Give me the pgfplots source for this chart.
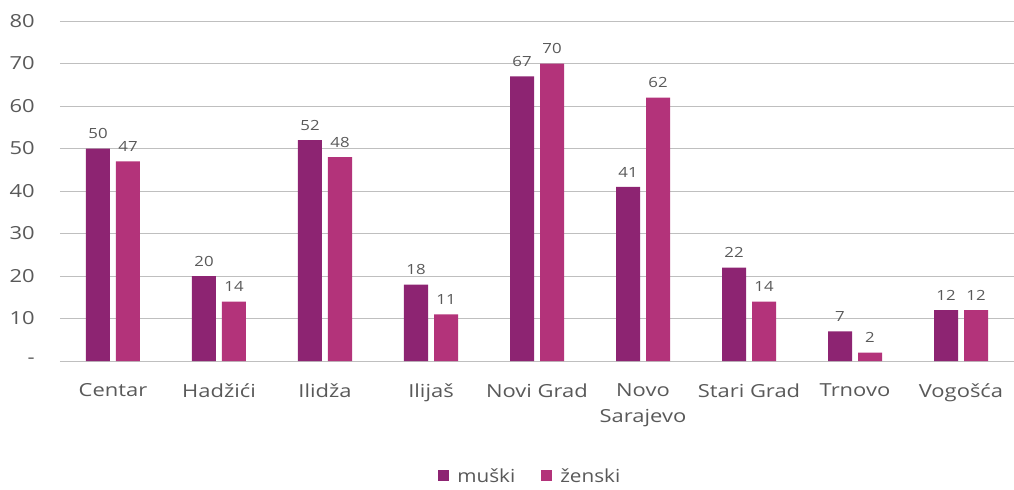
\documentclass[border=0pt]{standalone}
\usepackage{pgfplots}
\pgfplotsset{compat=1.18}
\usepackage{fontspec}
\setmainfont{Open Sans}
\definecolor{muski}{HTML}{8D2472}
\definecolor{zenski}{HTML}{B3337A}
\definecolor{txt}{HTML}{595959}
\definecolor{grid}{HTML}{D9D9D9}
\begin{document}
\begin{tikzpicture}
\useasboundingbox (-60bp,-129bp) rectangle (954bp,361bp);
\begin{axis}[
  at={(0,0)}, anchor=south west,
  scale only axis, width=954bp, height=340bp,
  ybar=6bp, bar width=24bp,
  xmin=-0.5, xmax=8.5, ymin=0, ymax=80,
  xtick=data,
  xticklabels={Centar,Hadžići,Ilidža,Ilijaš,Novi Grad,Novo\\Sarajevo,Stari Grad,Trnovo,Vogošća},
  xticklabel style={align=center, font=\fontsize{18bp}{26bp}\selectfont, text=txt, yshift=-19bp, xscale=1.22},
  ytick={0,10,...,80},
  yticklabels={-,10,20,30,40,50,60,70,80},
  yticklabel style={font=\fontsize{18bp}{20bp}\selectfont, text=txt, xshift=-21bp, xscale=1.22},
  xmajorgrids=false,
  ymajorgrids, major grid style={grid, line width=1bp},
  axis line style={draw=none},
  major tick length=0pt,
  tick style={draw=none},
  /pgf/number format/assume math mode=true,
  nodes near coords,
  nodes near coords style={font=\fontsize{14bp}{16bp}\selectfont, text=txt, yshift=6bp, xscale=1.2},
  legend style={at={(0.493,-0.338)}, anchor=center, draw=none, legend columns=2,
    font=\fontsize{18bp}{20bp}\selectfont, text=txt,
    /tikz/every even column/.append style={column sep=24bp},
    /tikz/every odd column/.append style={column sep=6bp}},
  legend image code/.code={\fill[#1] (0bp,-5.5bp) rectangle (11bp,5.5bp);},
]
\addplot[fill=muski, draw=none] coordinates {(0,50) (1,20) (2,52) (3,18) (4,67) (5,41) (6,22) (7,7) (8,12)};
\addplot[fill=zenski, draw=none] coordinates {(0,47) (1,14) (2,48) (3,11) (4,70) (5,62) (6,14) (7,2) (8,12)};
\legend{\scalebox{1.15}[1]{muški},\scalebox{1.15}[1]{ženski}}
\end{axis}
\end{tikzpicture}
\end{document}
